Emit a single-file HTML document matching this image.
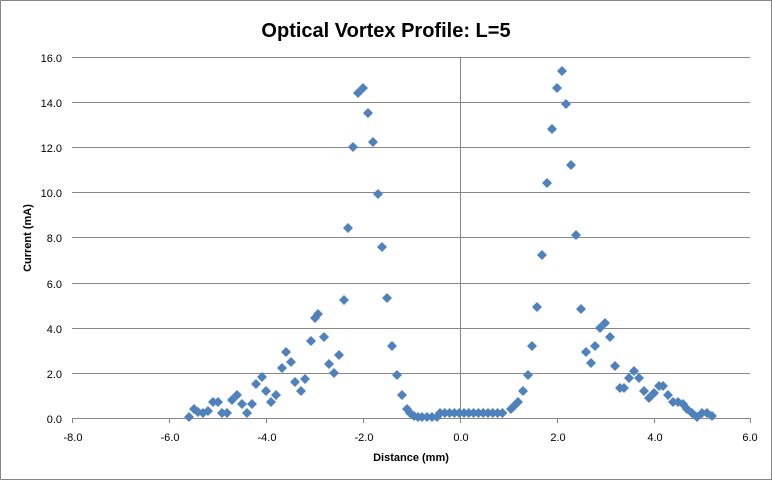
<!DOCTYPE html>
<html><head><meta charset="utf-8"><style>
body{margin:0;background:#fff;}
svg{display:block;font-family:"Liberation Sans",Arial,sans-serif;}
</style></head><body>
<svg width="772" height="480" viewBox="0 0 772 480">
<rect x="0.5" y="0.5" width="771" height="479" fill="#fff" stroke="#868686"/>
<text x="386" y="37" text-anchor="middle" font-size="20" font-weight="bold">Optical Vortex Profile: L=5</text>
<g stroke="#868686" stroke-width="1">
<line x1="72" y1="57.5" x2="750" y2="57.5"/>
<line x1="72" y1="102.5" x2="750" y2="102.5"/>
<line x1="72" y1="147.5" x2="750" y2="147.5"/>
<line x1="72" y1="192.5" x2="750" y2="192.5"/>
<line x1="72" y1="237.5" x2="750" y2="237.5"/>
<line x1="72" y1="283.5" x2="750" y2="283.5"/>
<line x1="72" y1="328.5" x2="750" y2="328.5"/>
<line x1="72" y1="373.5" x2="750" y2="373.5"/>
<line x1="72" y1="418.5" x2="750" y2="418.5"/>
<line x1="460.5" y1="57" x2="460.5" y2="418"/>
<line x1="72.5" y1="418" x2="72.5" y2="423"/>
<line x1="169.5" y1="418" x2="169.5" y2="423"/>
<line x1="266.5" y1="418" x2="266.5" y2="423"/>
<line x1="363.5" y1="418" x2="363.5" y2="423"/>
<line x1="460.5" y1="418" x2="460.5" y2="423"/>
<line x1="557.5" y1="418" x2="557.5" y2="423"/>
<line x1="654.5" y1="418" x2="654.5" y2="423"/>
<line x1="750.5" y1="418" x2="750.5" y2="423"/>
</g>
<g font-size="11" text-anchor="end">
<text x="62" y="62">16.0</text><text x="62" y="107">14.0</text><text x="62" y="152">12.0</text>
<text x="62" y="197">10.0</text><text x="62" y="242">8.0</text><text x="62" y="288">6.0</text>
<text x="62" y="333">4.0</text><text x="62" y="378">2.0</text><text x="62" y="423">0.0</text>
</g>
<g font-size="11" text-anchor="middle">
<text x="73" y="441">-8.0</text><text x="170" y="441">-6.0</text><text x="267" y="441">-4.0</text>
<text x="364" y="441">-2.0</text><text x="461" y="441">0.0</text><text x="558" y="441">2.0</text>
<text x="655" y="441">4.0</text><text x="750" y="441">6.0</text>
</g>
<text x="411" y="461" text-anchor="middle" font-size="11" font-weight="bold">Distance  (mm)</text>
<text transform="translate(31,238) rotate(-90)" text-anchor="middle" font-size="11" font-weight="bold">Current (mA)</text>
<defs><path id="d" d="M0,-5L5,0L0,5L-5,0Z" fill="#4f81bd"/></defs>
<g id="pts"></g>
</svg>
<script>
var p=[[363,88],[358,93],[368,113],[353,147],[373,142],[378,194],[348,228],[382,247],[344,300],[387,298],[392,346],[397,375],[402,395],[407,409],[410,413],[414,416],[418,417],[422,417],[427,417],[432,417],[437,417],
[318,314],[315,318],[324,337],[311,341],[339,355],[329,364],[334,373],[286,352],[291,362],[282,368],[305,379],[295,382],[301,391],[262,377],[256,384],[266,391],[276,395],[271,402],[252,404],[247,413],[237,395],[232,400],[242,404],[218,402],[213,402],[227,413],[222,413],[208,411],[203,413],[198,412],[194,409],[189,417],
[562,71],[557,88],[566,104],[552,129],[571,165],[547,183],[576,235],[542,255],[581,309],[537,307],[532,346],[528,375],[523,391],[518,402],[515,405],[511,409],
[586,352],[591,363],[595,346],[600,328],[605,323],[610,337],[615,366],[620,388],[624,388],[629,378],[634,371],[639,378],[644,391],[649,398],[654,393],[659,386],[663,386],[668,395],[673,402],[678,402],[683,404],[687,409],[692,413],[697,417],[702,413],[707,413],[712,416]];
for(var x=440;x<=507;x+=4.8){p.push([x,413]);}
var g=document.getElementById('pts'),s='';
p.forEach(function(q){s+='<use href="#d" x="'+q[0]+'" y="'+q[1]+'"/>';});
g.innerHTML=s;
</script>
</body></html>
